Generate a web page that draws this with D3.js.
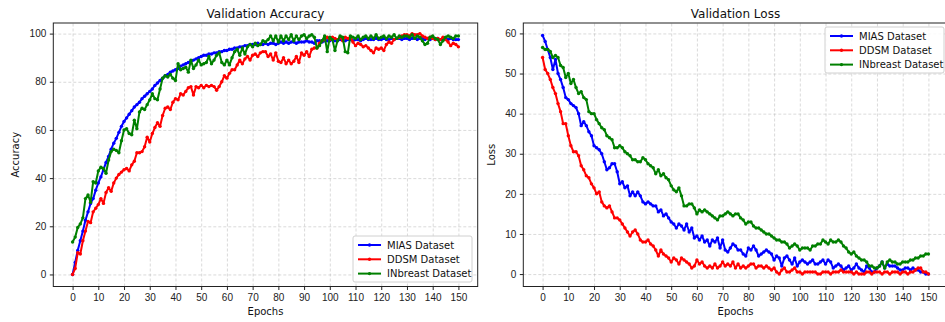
<!DOCTYPE html>
<html>
<head>
<meta charset="utf-8">
<script src="https://cdn.jsdelivr.net/npm/d3@7"></script>
<style>
  body { margin: 0; background: #fff; }
  svg { font-family: 'DejaVu Sans', sans-serif; }
  .grid line { stroke: #b0b0b0; stroke-opacity: 0.6; stroke-dasharray: 3,2; stroke-width: 0.8; }
  .grid .domain { display: none; }
  .axis text { font-size: 10px; fill: #222; }
  .axis line { stroke: #222; }
  .axis .domain { display: none; }
</style>
</head>
<body>
<div id="chart"></div>
<script>
const epochs = d3.range(0, 151);
const xTicks = d3.range(0, 151, 10);
const accTicks = [0, 20, 40, 60, 80, 100];
const lossTicks = [0, 10, 20, 30, 40, 50, 60];
const datasetNames = ['MIAS Dataset', 'DDSM Dataset', 'INbreast Dataset'];

const miasAcc = [
  0, 5, 10, 14, 18, 22.5, 26, 29.5, 31.5, 35,
  38, 40.5, 43.5, 46.5, 49, 52, 54.5, 56.5, 59, 61.5,
  63.5, 65, 66.5, 68, 69.5, 70.5, 71.5, 73, 74, 75,
  76, 77, 78.5, 79.5, 80.5, 81.5, 82.5, 83, 84, 84.5,
  85, 85.5, 86.5, 87, 87.5, 88, 88.5, 89, 89.5, 90,
  90.5, 91, 91, 91.5, 91.5, 92, 92, 92.5, 92.5, 93,
  93, 93.5, 93.5, 94, 94, 94.5, 94.5, 95, 95, 95.5,
  95.5, 95.5, 96, 95.5, 95.5, 96, 95.5, 96, 96, 95.5,
  96, 96.5, 96, 96.5, 96, 96.5, 96.5, 96, 96.5, 96.5,
  96.5, 97, 96.5, 96.5, 96, 97, 97, 96.5, 97, 97,
  97, 97.5, 97, 97, 97.5, 97.5, 97, 97.5, 97.5, 97,
  97.5, 97.5, 97, 97.5, 98, 97.5, 97.5, 97.5, 98, 97.5,
  97.5, 98, 97.5, 97.5, 98, 97.5, 98, 98, 97.5, 98,
  98, 97.5, 98, 98, 97.5, 98, 98, 97.5, 98, 97.5,
  98, 97.5, 98, 97.5, 97.5, 98, 97.5, 98, 97.5, 97.5, 97.5
];
const ddsmAcc = [
  0, 2.5, 9, 8.5, 14, 18, 22, 21.5, 26, 27.5,
  29, 31.5, 29.5, 34, 36, 34.5, 38, 40, 41.5, 42.5,
  43.5, 44, 43, 45.5, 47, 50.5, 50.5, 51, 53, 57,
  55, 58.5, 61, 63, 61.5, 66, 69, 69.5, 68.5, 71.5,
  73, 72.5, 75, 74.5, 76, 77.5, 78, 74.5, 78, 77.5,
  78.5, 77.5, 78.5, 78, 78.5, 78, 76.5, 78, 80, 82.5,
  81.5, 83.5, 85, 85, 87, 89, 87.5, 89.5, 90.5, 89,
  91, 91.5, 90.5, 92, 92.5, 92.5, 90.5, 91.5, 89, 92,
  88.5, 88, 90, 87.5, 89, 87.5, 88.5, 90.5, 88, 92,
  91, 92.5, 90.5, 93.5, 94, 94, 96, 97, 97.5, 98.5,
  97.5, 98.5, 98, 97.5, 98.5, 97, 98.5, 98, 98.5, 96.5,
  95, 96, 95.5, 94.5, 95, 94, 93, 92, 94, 93.5,
  94, 93, 95.5, 96.5, 96, 97.5, 98, 98.5, 99, 99.5,
  99.5, 99, 100, 99.5, 99.5, 100, 99, 98.5, 98, 98.5,
  98, 97.5, 98, 97.5, 98.5, 97.5, 96.5, 95, 96, 95.5, 94.5
];
const inbreastAcc = [
  13.5, 15.5, 19.5, 21, 23.5, 31.5, 33, 30, 38.5, 38,
  43, 44.5, 44, 42, 47.5, 51, 52, 51.5, 50.5, 55.5,
  60, 60.5, 58.5, 58, 64, 60.5, 67.5, 69, 68.5, 70.5,
  72.5, 75, 73, 72.5, 77, 81.5, 82.5, 82, 83, 81.5,
  80.5, 87.5, 85, 85.5, 86, 84, 89, 85.5, 87, 89,
  87, 87.5, 88, 90.5, 87.5, 89, 91, 92, 88, 87,
  89, 87, 90, 92.5, 93.5, 91, 94, 91.5, 94.5, 95.5,
  94.5, 96, 95, 95.5, 97, 96.5, 97.5, 99, 97, 99,
  96.5, 99, 97, 99, 97.5, 99.5, 97, 99, 97.5, 99,
  99.5, 98, 99, 99.5, 98.5, 94, 95, 97, 99, 92.5,
  98.5, 97.5, 93, 97, 99, 98.5, 92.5, 92, 99, 98.5,
  98, 99, 97.5, 98.5, 99, 98, 99, 98, 99.5, 98,
  98.5, 99, 98, 99, 98.5, 99.5, 98, 99, 98.5, 99,
  99, 98.5, 99.5, 98, 99, 98.5, 97, 95.5, 96, 98.5,
  99, 98, 97.5, 95.5, 97, 98.5, 99, 98.5, 98, 99, 99
];

const miasLoss = [
  59.5, 58, 56, 54, 51, 53.5, 50, 48.5, 46.5, 44,
  43.5, 42.5, 42, 41.5, 40, 37, 38, 37, 35.5, 34.5,
  32, 31.5, 31, 30, 28, 26, 26.5, 27.5, 27.5, 25.5,
  22.5, 23, 21.5, 22, 19.5, 20.5, 19.5, 20.5, 19.5, 18,
  17.5, 18, 17.5, 17, 17, 15.5, 16, 14.5, 15, 14,
  13, 12.5, 11.5, 12.5, 12, 11, 12.5, 10.5, 11.5, 9,
  9.5, 8.5, 9.5, 8, 8.5, 7, 8.5, 8, 9, 6.5,
  8.5, 6, 5.5, 6.5, 7.5, 7, 6, 6, 5, 4.5,
  6.5, 6, 7, 6, 4.5, 5, 5.5, 6, 5.5, 5,
  3.5, 4.5, 4, 2, 4, 4.5, 3.5, 2.5, 4, 2,
  3, 3.5, 3, 2.5, 3, 3.5, 2.5, 2.5, 3, 3.5,
  2.5, 3.5, 3, 1.5, 2, 2.5, 2, 1, 1.5, 2,
  1, 1.5, 2.5, 1.5, 1, 0.5, 2, 1.5, 0.5, 0.5,
  1.5, 2, 3, 1.5, 2.5, 2, 2, 2, 1.5, 1,
  1, 1.5, 1.5, 1, 1.5, 1, 1, 0.5, 0.5, 0, 0
];
const ddsmLoss = [
  54, 51, 50, 48.5, 46.5, 45, 42.5, 40.5, 37.5, 37.5,
  34.5, 32, 30.5, 30.5, 29.5, 27, 26, 24.5, 24, 22.5,
  21.5, 20, 20.5, 18, 17, 16.5, 17, 15.5, 14, 14,
  13.5, 12.5, 11.5, 10.5, 9.5, 10.5, 11, 10, 8.5, 8,
  8, 8.5, 7.5, 7, 6, 4.5, 6, 5, 4.5, 4,
  3, 4, 3.5, 2.5, 4, 3.5, 3, 2.5, 1.5, 2,
  3.5, 2.5, 3, 2, 1.5, 2, 1.5, 2.5, 1.5, 2,
  3, 2, 2.5, 2, 3, 1.5, 2.5, 1.5, 2, 1.5,
  2, 2.5, 2.5, 1.5, 2, 2, 1.5, 2, 1.5, 1,
  1.5, 0.5, 0, 1, 1.5, 0.5, 0.5, 1, 1.5, 0.5,
  0.5, 0, 0.5, 0.5, 0.5, 0.5, 0.5, 0, 0, 0.5,
  0.5, 0.5, 0, 0.5, 0.5, 0.5, 1, 0.5, 0.5, 0.5,
  0.5, 0, 0.5, 0, 0, 0, 0.5, 0.5, 0, 0.5,
  0.5, 0.5, 0, 0.5, 0.5, 0, 0.5, 0.5, 0.5, 0,
  0.5, 0.5, 0, 0.5, 0.5, 1, 1.5, 1.5, 0.5, 0.5, 0
];
const inbreastLoss = [
  56.5, 56, 56, 55.5, 54, 54.5, 54, 52, 51.5, 49,
  50, 47.5, 48.5, 46.5, 45, 45.5, 44, 43.5, 40.5, 40,
  40, 38.5, 37.5, 36.5, 36, 34.5, 34, 33.5, 31.5, 31.5,
  32, 31.5, 30.5, 30, 29.5, 28.5, 28.5, 28, 28, 29,
  28.5, 27.5, 27, 26.5, 25, 26, 24.5, 25, 24, 23.5,
  22, 21, 20.5, 21.5, 19.5, 17, 17, 17.5, 17.5, 16.5,
  15, 16, 15.5, 16, 15.5, 15, 14.5, 14, 13.5, 14.5,
  14.5, 15, 15.5, 15, 14.5, 15, 15, 14, 13.5, 12.5,
  13, 13, 12, 11.5, 11.5, 11, 10.5, 10, 10, 9.5,
  9, 8.5, 8.5, 8, 8, 7.5, 6.5, 7, 7.5, 7,
  6, 6.5, 6.5, 6.5, 6, 7, 7, 7.5, 7.5, 8.5,
  8, 7.5, 8.5, 8, 8, 8.5, 8, 7, 6.5, 5.5,
  5, 5.5, 4.5, 4, 3.5, 3.5, 3, 2, 2, 1.5,
  1.5, 2, 3, 1.5, 3, 3.5, 3, 3, 2.5, 2.5,
  3, 3, 3, 3.5, 3.5, 4, 4, 4.5, 4.5, 5, 5
];

const colors = ['#0000ff', '#ff0000', '#008000'];

const width = 945;
const height = 322;
const svg = d3.select('#chart').append('svg')
  .attr('width', width)
  .attr('height', height);

// draws one subplot: frame, grid, axes, lines, legend
function drawPanel(opts) {
  const {left, title, yLabel, yLabelGap, series, yDomain, yTicks, legendAt} = opts;
  const top = 23;
  const bottom = 286.5;
  const panelWidth = 424.4;

  const x = d3.scaleLinear().domain([-7.5, 157.5]).range([left, left + panelWidth]);
  const y = d3.scaleLinear().domain(yDomain).range([bottom, top]);

  const g = svg.append('g');

  g.append('g')
    .attr('class', 'grid')
    .attr('transform', `translate(0,${bottom})`)
    .call(d3.axisBottom(x).tickValues(xTicks).tickSize(-(bottom - top)).tickFormat(''));
  g.append('g')
    .attr('class', 'grid')
    .attr('transform', `translate(${left},0)`)
    .call(d3.axisLeft(y).tickValues(yTicks).tickSize(-panelWidth).tickFormat(''));

  g.append('g')
    .attr('class', 'axis')
    .attr('transform', `translate(0,${bottom})`)
    .call(d3.axisBottom(x).tickValues(xTicks).tickSize(3.5).tickPadding(3.5));
  g.append('g')
    .attr('class', 'axis')
    .attr('transform', `translate(${left},0)`)
    .call(d3.axisLeft(y).tickValues(yTicks).tickSize(3.5).tickPadding(3.5));

  const line = d3.line()
    .x((d, i) => x(epochs[i]))
    .y(d => y(d));

  series.forEach((values, k) => {
    g.append('path')
      .datum(values)
      .attr('fill', 'none')
      .attr('stroke', colors[k])
      .attr('stroke-width', 2)
      .attr('stroke-linejoin', 'round')
      .attr('d', line);
    g.append('g')
      .selectAll('circle')
      .data(values)
      .join('circle')
      .attr('cx', (d, i) => x(epochs[i]))
      .attr('cy', d => y(d))
      .attr('r', 1.7)
      .attr('fill', colors[k]);
  });

  // frame
  g.append('rect')
    .attr('x', left)
    .attr('y', top)
    .attr('width', panelWidth)
    .attr('height', bottom - top)
    .attr('fill', 'none')
    .attr('stroke', '#222')
    .attr('stroke-width', 1);

  g.append('text')
    .attr('x', left + panelWidth / 2)
    .attr('y', 18)
    .attr('text-anchor', 'middle')
    .attr('font-size', 12)
    .attr('fill', '#111')
    .text(title);

  g.append('text')
    .attr('x', left + panelWidth / 2)
    .attr('y', 315)
    .attr('text-anchor', 'middle')
    .attr('font-size', 10)
    .attr('fill', '#111')
    .text('Epochs');

  g.append('text')
    .attr('transform', `translate(${left - yLabelGap},${(top + bottom) / 2}) rotate(-90)`)
    .attr('text-anchor', 'middle')
    .attr('font-size', 10)
    .attr('fill', '#111')
    .text(yLabel);

  // legend
  const lg = g.append('g').attr('transform', `translate(${legendAt[0]},${legendAt[1]})`);
  lg.append('rect')
    .attr('width', 119)
    .attr('height', 46)
    .attr('rx', 2)
    .attr('fill', '#fff')
    .attr('fill-opacity', 0.85)
    .attr('stroke', '#d0d0d0');
  datasetNames.forEach((name, k) => {
    const row = lg.append('g').attr('transform', `translate(0,${9 + k * 14.3})`);
    row.append('line')
      .attr('x1', 5).attr('x2', 28)
      .attr('stroke', colors[k])
      .attr('stroke-width', 2);
    row.append('circle')
      .attr('cx', 16.5).attr('r', 1.7)
      .attr('fill', colors[k]);
    row.append('text')
      .attr('x', 34)
      .attr('dy', '0.35em')
      .attr('font-size', 10)
      .attr('fill', '#111')
      .text(name);
  });
}

drawPanel({
  left: 53.3,
  title: 'Validation Accuracy',
  yLabel: 'Accuracy',
  yLabelGap: 34,
  series: [miasAcc, ddsmAcc, inbreastAcc],
  yDomain: [-5, 104.4],
  yTicks: accTicks,
  legendAt: [353, 236]
});

drawPanel({
  left: 523.3,
  title: 'Validation Loss',
  yLabel: 'Loss',
  yLabelGap: 28,
  series: [miasLoss, ddsmLoss, inbreastLoss],
  yDomain: [-3.1, 62.6],
  yTicks: lossTicks,
  legendAt: [825, 27]
});
</script>
</body>
</html>
